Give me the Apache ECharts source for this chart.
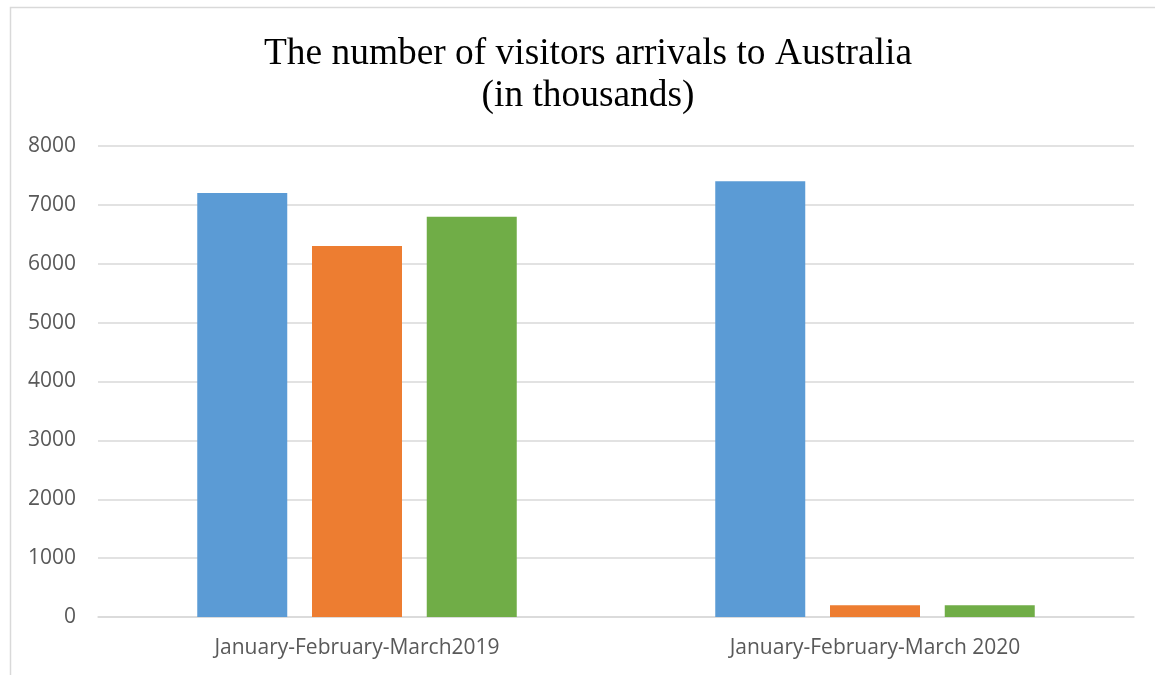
<!DOCTYPE html>
<html>
<head>
<meta charset="utf-8">
<script src="https://cdn.jsdelivr.net/npm/echarts@6/dist/echarts.min.js"></script>
<style>
html,body{margin:0;padding:0;background:#fff;}
#chart{width:1155px;height:675px;}
</style>
</head>
<body>
<div id="chart"></div>
<script>
const categories = ["January-February-March2019", "January-February-March 2020"];
const january = [7200, 7400];
const february = [6300, 200];
const march = [6800, 200];
const yTicks = [0, 1000, 2000, 3000, 4000, 5000, 6000, 7000, 8000];

const chart = echarts.init(document.getElementById('chart'), null, {renderer: 'canvas'});
const labelFont = '"Open Sans", "Liberation Sans", sans-serif';
chart.setOption({
  animation: false,
  backgroundColor: '#ffffff',
  title: {
    text: 'The number of visitors arrivals to Australia\n(in thousands)',
    left: 583,
    top: 28,
    textAlign: 'center',
    textStyle: {
      fontFamily: '"Liberation Serif", "Times New Roman", serif',
      fontSize: 37.4,
      lineHeight: 42,
      fontWeight: 'normal',
      color: '#000000'
    }
  },
  graphic: [{
    type: 'rect',
    silent: true,
    shape: {x: 10.5, y: 7.5, width: 1300, height: 800},
    style: {fill: 'none', stroke: '#d9d9d9', lineWidth: 1.5},
    z: -1
  }],
  grid: {left: 98, right: 21, top: 146, bottom: 58, containLabel: false},
  xAxis: {
    type: 'category',
    data: categories,
    axisTick: {show: false},
    axisLine: {show: true, lineStyle: {color: '#d9d9d9', width: 1.5}},
    axisLabel: {color: '#595959', fontFamily: labelFont, fontSize: 21, margin: 21}
  },
  yAxis: {
    type: 'value',
    min: yTicks[0],
    max: yTicks[yTicks.length - 1],
    interval: 1000,
    axisLine: {show: false},
    axisTick: {show: false},
    splitLine: {lineStyle: {color: '#d9d9d9', width: 1.5}},
    axisLabel: {color: '#595959', fontFamily: labelFont, fontSize: 21, margin: 22,
      formatter: function (v) { return String(v); }}
  },
  series: [
    {name: 'January', type: 'bar', data: january, barWidth: 90, barGap: '27.5%', itemStyle: {color: '#5b9bd5'}},
    {name: 'February', type: 'bar', data: february, barWidth: 90, itemStyle: {color: '#ed7d31'}},
    {name: 'March', type: 'bar', data: march, barWidth: 90, itemStyle: {color: '#70ad47'}}
  ]
});
</script>
</body>
</html>
